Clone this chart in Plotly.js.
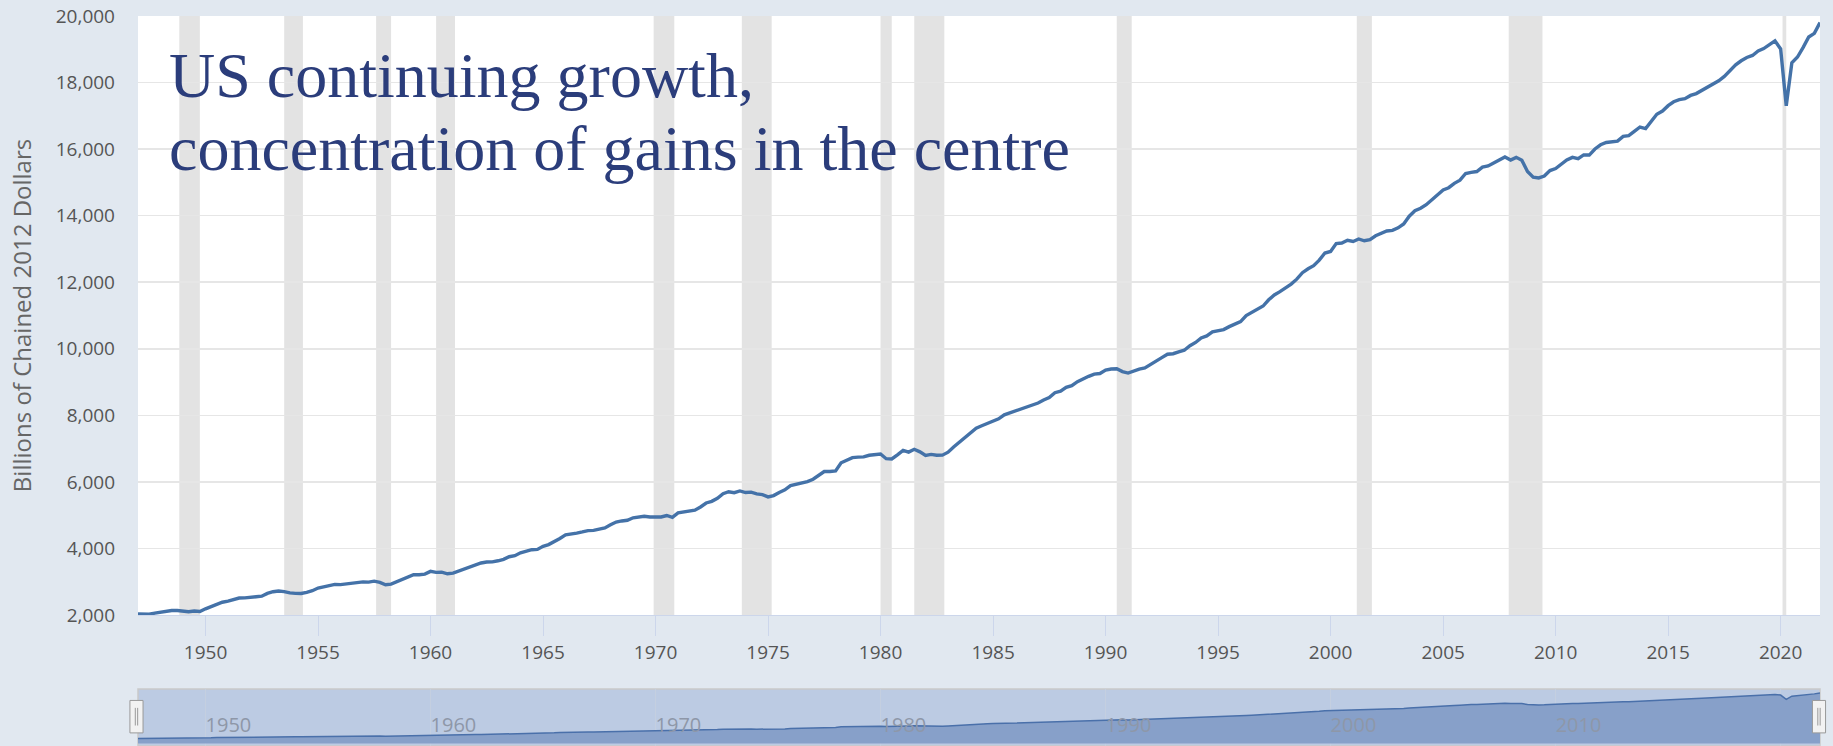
<!DOCTYPE html>
<html>
<head>
<meta charset="utf-8">
<script src="https://cdn.plot.ly/plotly-3.0.1.min.js"></script>
<style>
  html, body { margin: 0; padding: 0; background: #e1e8f0; }
  #chart { width: 1833px; height: 746px; }
</style>
</head>
<body>
<div id="chart"></div>
<script>
// Real GDP, billions of chained 2012 dollars, quarterly (Q1..Q4 per year)
const startYear = 1947;
const gdp1940s = [2033.1, 2027.6, 2023.5, 2055.1, 2086.0, 2120.5, 2132.6, 2134.0, 2105.6, 2098.4, 2120.0, 2102.3];
const gdp1950s = [2184.9, 2251.5, 2338.5, 2383.2, 2415.7, 2457.5, 2508.2, 2514.0, 2540.6, 2546.0,
                  2564.4, 2648.6, 2697.9, 2718.7, 2703.4, 2662.5, 2649.8, 2646.2, 2680.3, 2729.3,
                  2808.2, 2846.1, 2893.6, 2919.5, 2911.5, 2932.8, 2929.7, 2972.8, 2993.5, 2987.2,
                  3017.4, 2980.8, 2906.7, 2925.4, 3000.7, 3083.5, 3137.0, 3209.0, 3210.4, 3228.5];
const gdp1960s = [3309.4, 3279.8, 3286.9, 3237.6, 3257.5, 3319.0, 3385.5, 3456.5, 3520.5, 3562.2,
                  3591.3, 3594.6, 3628.5, 3669.7, 3749.4, 3781.5, 3869.3, 3911.3, 3961.0, 3969.5,
                  4062.9, 4114.2, 4198.1, 4297.6, 4405.4, 4420.4, 4461.0, 4496.1, 4534.9, 4542.6,
                  4584.1, 4614.7, 4708.2, 4792.5, 4825.7, 4846.0, 4920.4, 4935.6, 4966.3, 4943.1];
const gdp1970s = [4936.6, 4943.6, 4989.2, 4935.7, 5069.7, 5097.2, 5139.1, 5151.2, 5245.9, 5365.0,
                  5415.7, 5506.4, 5642.7, 5704.1, 5674.1, 5727.9, 5678.7, 5692.2, 5638.4, 5616.5,
                  5548.2, 5587.8, 5683.4, 5759.7, 5889.5, 5932.7, 5965.3, 6008.5, 6079.5, 6197.7,
                  6309.5, 6309.7, 6329.8, 6574.4, 6640.5, 6729.8, 6741.9, 6749.1, 6799.2, 6816.2];
const gdp1980s = [6837.6, 6696.8, 6688.8, 6813.5, 6947.0, 6895.6, 6978.1, 6902.1, 6794.9, 6825.9,
                  6799.8, 6802.5, 6892.1, 7048.0, 7189.9, 7339.9, 7483.4, 7612.7, 7686.1, 7749.2,
                  7824.2, 7893.1, 8013.7, 8073.2, 8148.6, 8185.3, 8263.6, 8308.0, 8369.9, 8460.2,
                  8533.6, 8680.2, 8725.0, 8839.6, 8891.4, 9009.9, 9101.5, 9171.0, 9238.9, 9257.1];
const gdp1990s = [9358.3, 9392.3, 9398.5, 9312.9, 9269.4, 9341.6, 9388.8, 9421.6, 9534.3, 9637.7,
                  9733.0, 9834.5, 9851.0, 9908.3, 9955.6, 10091.0, 10189.0, 10327.0, 10387.4, 10506.4,
                  10543.6, 10575.1, 10665.1, 10737.5, 10817.9, 10998.3, 11097.0, 11212.2, 11284.6, 11472.1,
                  11615.6, 11715.4, 11832.5, 11942.0, 12091.6, 12287.0, 12403.3, 12498.7, 12662.4, 12877.6];
const gdp2000s = [12924.2, 13160.8, 13178.4, 13260.5, 13222.7, 13300.0, 13244.8, 13280.9, 13397.0, 13478.2,
                  13538.1, 13559.0, 13634.3, 13751.5, 13985.1, 14146.0, 14221.1, 14329.5, 14465.0, 14609.9,
                  14771.6, 14839.8, 14972.1, 15066.6, 15267.0, 15302.7, 15326.4, 15456.9, 15493.3, 15582.1,
                  15666.7, 15762.0, 15671.4, 15752.3, 15667.0, 15328.0, 15155.9, 15134.1, 15189.2, 15356.1];
const gdp2010s = [15415.1, 15557.3, 15672.0, 15750.6, 15712.8, 15825.1, 15820.7, 16004.1, 16129.4, 16198.8,
                  16220.7, 16239.1, 16383.0, 16403.2, 16531.7, 16663.6, 16616.5, 16841.5, 17047.1, 17143.0,
                  17305.8, 17422.8, 17488.0, 17514.1, 17613.3, 17668.2, 17764.6, 17876.2, 17977.3, 18054.1,
                  18185.6, 18359.4, 18530.5, 18654.4, 18752.4, 18813.9, 18950.3, 19020.6, 19141.7, 19254.0];
const gdp2020s = [19010.8, 17302.5, 18596.5, 18767.8, 19055.7, 19368.3, 19478.9, 19806.3];

// NBER recessions (peak month -> trough month)
const recessionStart = ['1948-11-01', '1953-07-01', '1957-08-01', '1960-04-01', '1969-12-01', '1973-11-01',
                        '1980-01-01', '1981-07-01', '1990-07-01', '2001-03-01', '2007-12-01', '2020-02-01'];
const recessionEnd   = ['1949-10-01', '1954-05-01', '1958-04-01', '1961-02-01', '1970-11-01', '1975-03-01',
                        '1980-07-01', '1982-11-01', '1991-03-01', '2001-11-01', '2009-06-01', '2020-04-01'];

const titleLine1 = 'US continuing growth,';
const titleLine2 = 'concentration of gains in the centre';
const yTitle = 'Billions of Chained 2012 Dollars';
const xRange = ['1947-01-01', '2021-10-01'];
const yRange = [2000, 20000];

const gdp = [].concat(gdp1940s, gdp1950s, gdp1960s, gdp1970s, gdp1980s, gdp1990s, gdp2000s, gdp2010s, gdp2020s);
const dates = gdp.map((v, i) => {
  const y = startYear + Math.floor(i / 4);
  const m = 1 + 3 * (i % 4);
  return y + '-' + String(m).padStart(2, '0') + '-01';
});

const tickFont = { family: '"Open Sans", sans-serif', size: 19, color: '#555555' };

const shapes = [];
// navigator background
shapes.push({ type: 'rect', xref: 'x2 domain', yref: 'y2 domain', x0: 0, x1: 1, y0: 0, y1: 1,
  fillcolor: '#bccbe3', line: { color: '#c9c9c9', width: 1.5 }, layer: 'below' });
recessionStart.forEach((s, i) => {
  shapes.push({ type: 'rect', xref: 'x', yref: 'y domain', x0: s, x1: recessionEnd[i], y0: 0, y1: 1,
    fillcolor: '#e3e3e3', line: { width: 0 }, layer: 'below' });
});
// navigator handles
[[-0.0048, 0.0030], [0.9955, 1.0033]].forEach(h => {
  shapes.push({ type: 'rect', xref: 'x2 domain', yref: 'y2 domain', x0: h[0], x1: h[1], y0: 0.23, y1: 0.80,
    fillcolor: '#f2f2f2', line: { color: '#999999', width: 1 }, layer: 'above' });
  const c = (h[0] + h[1]) / 2;
  [-0.0007, 0.0007].forEach(d => {
    shapes.push({ type: 'line', xref: 'x2 domain', yref: 'y2 domain', x0: c + d, x1: c + d, y0: 0.36, y1: 0.67,
      line: { color: '#999999', width: 1 }, layer: 'above' });
  });
});

const serif = { family: '"Liberation Serif", "Times New Roman", serif', size: 64, color: '#2b3d7b' };

const layout = {
  width: 1833, height: 746,
  margin: { l: 138, r: 13, t: 16, b: 0 },
  paper_bgcolor: '#e1e8f0',
  plot_bgcolor: '#ffffff',
  showlegend: false,
  xaxis: {
    type: 'date', range: xRange, domain: [0, 1], anchor: 'y',
    tickmode: 'linear', tick0: '1950-01-01', dtick: 'M60', tickformat: '%Y',
    ticks: 'outside', ticklen: 20, tickcolor: '#ccd6eb', tickwidth: 1,
    showline: true, linecolor: '#ccd6eb', linewidth: 1.5,
    showgrid: false, zeroline: false,
    tickfont: tickFont
  },
  yaxis: {
    range: yRange, domain: [0.1795, 1], anchor: 'x',
    tickmode: 'linear', tick0: 2000, dtick: 2000, tickformat: ',d',
    ticks: '', ticklabelstandoff: 22,
    gridcolor: '#e6e6e6', gridwidth: 1.5, zeroline: false, showline: false,
    tickfont: tickFont,
    title: { text: yTitle, font: { family: '"Open Sans", sans-serif', size: 24, color: '#666666' }, standoff: 17 }
  },
  xaxis2: {
    type: 'date', range: xRange, domain: [0, 1], anchor: 'y2',
    tickmode: 'linear', tick0: '1950-01-01', dtick: 'M120', tickformat: '%Y',
    ticks: '', ticklabelposition: 'inside right', ticklabelstandoff: 4,
    showgrid: true, gridcolor: '#c4cfe0', gridwidth: 1, showline: false, zeroline: false,
    tickfont: { family: tickFont.family, size: 20, color: '#8e97a8' }
  },
  yaxis2: {
    range: [-950, 21370], domain: [0, 0.078], anchor: 'x2',
    showgrid: false, showticklabels: false, zeroline: false, ticks: ''
  },
  shapes: shapes,
  annotations: [
    { text: titleLine1, xref: 'paper', yref: 'paper', x: 0.0172, y: 0.9186, xanchor: 'left', yanchor: 'middle',
      showarrow: false, font: serif },
    { text: titleLine2, xref: 'paper', yref: 'paper', x: 0.0172, y: 0.8180, xanchor: 'left', yanchor: 'middle',
      showarrow: false, font: serif }
  ]
};

const traces = [
  { x: dates, y: gdp, type: 'scatter', mode: 'lines', xaxis: 'x', yaxis: 'y',
    line: { color: '#4472a8', width: 3.4 }, hoverinfo: 'skip' },
  { x: dates, y: gdp, type: 'scatter', mode: 'lines', xaxis: 'x2', yaxis: 'y2',
    fill: 'tozeroy', fillcolor: '#87a0c9',
    line: { color: '#4a70aa', width: 1.5 }, hoverinfo: 'skip' }
];

Plotly.newPlot('chart', traces, layout, { staticPlot: true, displayModeBar: false });
</script>
</body>
</html>
